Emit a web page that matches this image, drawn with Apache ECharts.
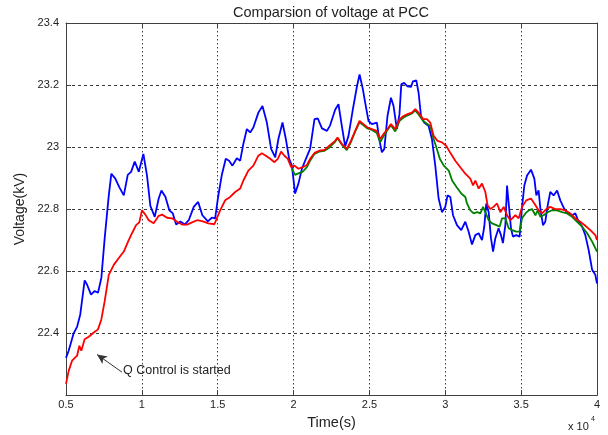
<!DOCTYPE html>
<html>
<head>
<meta charset="utf-8">
<script src="https://cdn.jsdelivr.net/npm/echarts@6/dist/echarts.min.js"></script>
<style>
  html, body { margin: 0; padding: 0; background: #fff; }
  #chart { width: 608px; height: 435px; }
</style>
</head>
<body>
<div id="chart"></div>
<script>
// Time axis in seconds, voltage in kV
const xTicks = [5000, 10000, 15000, 20000, 25000, 30000, 35000, 40000];
const yTicks = [22.2, 22.4, 22.6, 22.8, 23.0, 23.2, 23.4];

// Uncompensated voltage (blue)
const blueTime = [5000,5180,5510,5730,5940,6230,6390,6650,6890,7110,7330,7550,7820,7990,8250,8520,8810,9070,9290,9530,9800,10100,10340,10560,10850,11110,11290,11550,11810,12040,12260,12540,12830,13090,13420,13710,13990,14350,14610,14830,15010,15270,15530,15750,15970,16260,16480,16690,16920,17140,17350,17680,17950,18240,18520,18790,19000,19270,19490,19710,19890,20100,20320,20550,20810,21090,21380,21600,21870,22200,22410,22740,22960,23180,23400,23620,23910,24180,24350,24570,24720,24940,25160,25490,25670,25820,25980,26190,26420,26590,26810,26980,27100,27290,27510,27740,27870,28090,28240,28400,28610,28900,29120,29340,29560,29780,30000,30150,30330,30510,30770,31050,31320,31540,31760,31980,32200,32420,32570,32700,32860,33010,33150,33300,33510,33670,33800,33960,34070,34170,34330,34460,34680,34900,35060,35210,35390,35650,35870,36000,36150,36270,36440,36590,36750,36920,37140,37370,37580,37850,38070,38360,38570,38790,39020,39230,39450,39680,39890,40000];
const blueVolt = [22.32,22.344,22.40,22.42,22.46,22.57,22.556,22.524,22.536,22.53,22.578,22.706,22.844,22.914,22.898,22.87,22.844,22.91,22.92,22.953,22.92,22.978,22.908,22.81,22.775,22.834,22.86,22.84,22.796,22.786,22.75,22.76,22.75,22.764,22.807,22.823,22.78,22.76,22.772,22.77,22.834,22.91,22.962,22.956,22.94,22.964,22.956,23.01,23.058,23.047,23.063,23.111,23.132,23.079,22.994,22.967,23.026,23.079,23.026,22.962,22.94,22.85,22.882,22.93,22.962,22.994,23.09,23.092,23.06,23.052,23.07,23.12,23.138,23.068,23.002,23.036,23.122,23.196,23.234,23.186,23.143,23.084,23.074,23.079,23.02,22.983,22.994,23.10,23.159,23.132,23.058,23.106,23.202,23.207,23.196,23.194,23.212,23.215,23.175,23.10,23.079,23.068,23.026,22.94,22.834,22.79,22.807,22.844,22.839,22.78,22.748,22.732,22.759,22.727,22.686,22.716,22.722,22.70,22.743,22.818,22.79,22.706,22.663,22.706,22.738,22.716,22.69,22.748,22.876,22.823,22.738,22.711,22.716,22.711,22.807,22.876,22.908,22.927,22.898,22.844,22.86,22.80,22.748,22.759,22.812,22.855,22.844,22.86,22.828,22.80,22.786,22.78,22.786,22.759,22.743,22.716,22.668,22.604,22.588,22.56];

// Q-controlled voltage (red)
const redTime = [5000,5180,5400,5730,5880,6010,6230,6500,6830,7110,7330,7550,7820,8150,8480,8810,9090,9350,9620,9830,10010,10230,10450,10780,11110,11330,11660,11990,12320,12650,12980,13310,13640,13970,14390,14780,14940,15160,15490,15820,16150,16480,16690,17020,17350,17680,17910,18170,18460,18740,18960,19180,19400,19620,19840,20060,20320,20590,20880,21090,21380,21690,22040,22300,22740,22900,23180,23510,23780,24060,24350,24610,24870,25160,25490,25710,25930,26190,26420,26700,26990,27250,27510,27800,28020,28240,28530,28790,29010,29230,29490,29780,30060,30370,30660,30990,31320,31650,31830,31980,32200,32420,32640,32790,32970,33180,33410,33630,33850,34070,34290,34620,34840,35060,35340,35650,35870,36000,36150,36380,36660,36920,37250,37580,37910,38240,38570,38900,39230,39560,39890,40000];
const redVolt = [22.236,22.279,22.311,22.327,22.359,22.343,22.38,22.388,22.402,22.412,22.444,22.503,22.588,22.62,22.642,22.663,22.695,22.722,22.748,22.757,22.796,22.782,22.764,22.754,22.778,22.782,22.772,22.77,22.759,22.75,22.75,22.757,22.764,22.761,22.754,22.751,22.77,22.796,22.828,22.839,22.855,22.866,22.892,22.924,22.94,22.972,22.98,22.972,22.962,22.951,22.962,22.985,22.972,22.962,22.935,22.94,22.93,22.935,22.942,22.962,22.981,22.988,22.991,23.002,23.02,23.031,23.01,22.994,23.02,23.052,23.084,23.074,23.063,23.058,23.052,23.026,23.042,23.058,23.074,23.058,23.09,23.10,23.106,23.111,23.122,23.111,23.09,23.09,23.079,23.036,23.02,23.015,23.004,22.978,22.956,22.935,22.914,22.898,22.876,22.892,22.866,22.882,22.855,22.812,22.80,22.807,22.818,22.79,22.807,22.78,22.764,22.78,22.77,22.807,22.828,22.834,22.818,22.823,22.796,22.786,22.80,22.807,22.80,22.80,22.796,22.786,22.77,22.759,22.746,22.732,22.716,22.70];

// Second controlled case (green), starting near t = 2e4 s
const greenTime = [19890,20100,20320,20590,20880,21090,21380,21690,22040,22300,22740,22900,23180,23510,23780,24060,24350,24610,24870,25160,25490,25710,25930,26190,26420,26700,26990,27250,27510,27800,28020,28240,28530,28790,29010,29230,29410,29640,29900,30230,30450,30740,31050,31320,31430,31650,31870,32100,32310,32490,32640,32860,33080,33370,33580,33740,33960,34180,34400,34680,34900,35060,35280,35500,35720,35940,36090,36270,36480,36750,37040,37370,37700,38030,38360,38690,39020,39350,39680,40000];
const greenVolt = [22.93,22.91,22.915,22.92,22.935,22.956,22.978,22.985,22.988,22.996,23.017,23.028,23.008,22.99,23.016,23.05,23.08,23.07,23.06,23.055,23.045,23.015,23.035,23.055,23.07,23.05,23.085,23.095,23.102,23.108,23.118,23.105,23.085,23.075,23.068,23.026,22.999,22.962,22.94,22.924,22.892,22.871,22.85,22.839,22.818,22.796,22.786,22.79,22.786,22.807,22.79,22.764,22.754,22.748,22.743,22.77,22.77,22.738,22.732,22.727,22.727,22.77,22.786,22.796,22.80,22.78,22.796,22.775,22.78,22.79,22.796,22.796,22.79,22.786,22.775,22.759,22.743,22.722,22.695,22.663];

// Annotation: arrow tail / head and text anchor (time, voltage)
const arrowTail = [8690, 22.274];
const arrowHead = [7045, 22.331];
const noteAnchor = [8760, 22.28];
const noteText = 'Q Control is started';

const zip = (t, v) => t.slice(0, Math.min(t.length, v.length)).map((x, i) => [x, v[i]]);

const FONT = '"Liberation Sans", Arial, Helvetica, sans-serif';
const AXIS = '#404040';
const GRIDC = '#3a3a3a';

const xBase = {
  type: 'value',
  min: xTicks[0],
  max: xTicks[xTicks.length - 1],
  interval: 5000,
  axisLine: { show: true, onZero: false, lineStyle: { color: AXIS, width: 1 } },
  axisTick: { show: true, inside: true, length: 5, lineStyle: { color: AXIS } }
};
const yBase = {
  type: 'value',
  min: yTicks[0],
  max: yTicks[yTicks.length - 1],
  interval: 0.2,
  axisLine: { show: true, onZero: false, lineStyle: { color: AXIS, width: 1 } },
  axisTick: { show: true, inside: true, length: 5, lineStyle: { color: AXIS } }
};

const chart = echarts.init(document.getElementById('chart'), null, { renderer: 'canvas' });

chart.setOption({
  animation: false,
  backgroundColor: '#ffffff',
  textStyle: { fontFamily: FONT },
  title: {
    text: 'Comparsion of voltage at PCC',
    left: 331,
    textAlign: 'center',
    top: 0,
    padding: [5, 0, 0, 0],
    textStyle: { fontSize: 14.5, fontWeight: 'normal', color: '#222', fontFamily: FONT }
  },
  grid: { left: 66, right: 11, top: 23, bottom: 37, containLabel: false },
  xAxis: [
    Object.assign({}, xBase, {
      position: 'bottom',
      name: 'Time(s)',
      nameLocation: 'middle',
      nameGap: 16,
      nameTextStyle: { fontSize: 14.5, color: '#222', fontFamily: FONT, verticalAlign: 'top' },
      axisLabel: {
        color: '#222', fontSize: 11, margin: 4, fontFamily: FONT,
        formatter: v => String(+(v / 10000).toFixed(2))
      },
      splitLine: { show: true, lineStyle: { color: GRIDC, width: 1, type: [1.5, 2.5] } }
    }),
    Object.assign({}, xBase, {
      position: 'top',
      axisLabel: { show: false },
      splitLine: { show: false }
    })
  ],
  yAxis: [
    Object.assign({}, yBase, {
      position: 'left',
      name: 'Voltage(kV)',
      nameLocation: 'middle',
      nameGap: 34,
      nameTextStyle: { fontSize: 14, color: '#222', fontFamily: FONT },
      axisLabel: {
        color: '#222', fontSize: 11, margin: 7, fontFamily: FONT,
        showMinLabel: false,
        formatter: v => String(+v.toFixed(1))
      },
      splitLine: { show: true, lineStyle: { color: GRIDC, width: 1, type: [3, 3] } }
    }),
    Object.assign({}, yBase, {
      position: 'right',
      axisLabel: { show: false },
      splitLine: { show: false }
    })
  ],
  series: [
    {
      name: 'blue', type: 'line', xAxisIndex: 0, yAxisIndex: 0,
      data: zip(blueTime, blueVolt), showSymbol: false, symbol: 'none',
      lineStyle: { color: '#0000ff', width: 1.8 }, z: 3
    },
    {
      name: 'green', type: 'line', xAxisIndex: 0, yAxisIndex: 0,
      data: zip(greenTime, greenVolt), showSymbol: false, symbol: 'none',
      lineStyle: { color: '#008000', width: 1.8 }, z: 4
    },
    {
      name: 'red', type: 'line', xAxisIndex: 0, yAxisIndex: 0,
      data: zip(redTime, redVolt), showSymbol: false, symbol: 'none',
      lineStyle: { color: '#ff0000', width: 1.8 }, z: 5,
      markLine: {
        silent: true,
        symbol: ['none', 'arrow'],
        symbolSize: [7, 10],
        label: { show: false },
        lineStyle: { color: '#333', width: 1, type: 'solid' },
        data: [[{ coord: arrowTail }, { coord: arrowHead }]]
      },
      markPoint: {
        silent: true,
        symbol: 'circle',
        symbolSize: 0,
        data: [{ coord: noteAnchor }],
        label: {
          show: true,
          position: 'right',
          distance: 0,
          formatter: noteText,
          color: '#222',
          fontSize: 12.5,
          fontFamily: FONT
        }
      }
    }
  ],
  graphic: [
    {
      type: 'text', x: 568, y: 427,
      style: { text: 'x 10', font: '11px ' + FONT, fill: '#222', align: 'left', verticalAlign: 'middle' }
    },
    {
      type: 'text', x: 591, y: 419,
      style: { text: '4', font: '7px ' + FONT, fill: '#222', align: 'left', verticalAlign: 'middle' }
    }
  ]
});
</script>
</body>
</html>
